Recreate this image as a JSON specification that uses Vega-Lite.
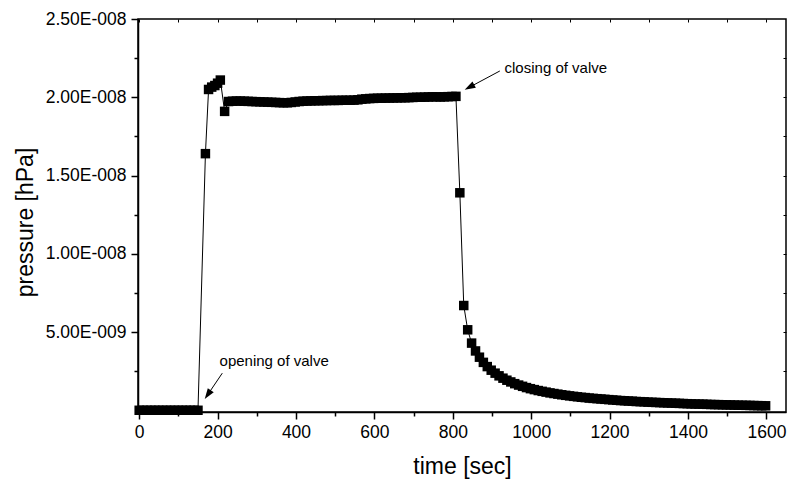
{
  "$schema": "https://vega.github.io/schema/vega-lite/v6.json",
  "width": 648,
  "height": 393,
  "autosize": {"type": "none"},
  "padding": {"left": 138, "top": 19, "right": 2, "bottom": 70},
  "background": "white",
  "config": {
    "view": {"stroke": "black", "strokeWidth": 1.5},
    "font": "Liberation Sans",
    "axis": {"grid": false, "domainColor": "black", "tickColor": "black", "labelColor": "black", "titleColor": "black", "labelFont": "Liberation Sans", "titleFont": "Liberation Sans", "titleFontWeight": "normal", "labelFlush": false, "labelOverlap": false}
  },
  "datasets": {
    "main": [
      {"t": 0, "p": 1e-11}, {"t": 10, "p": 1e-11}, {"t": 20, "p": 1e-11}, {"t": 30, "p": 1e-11}, {"t": 40, "p": 1e-11}, {"t": 50, "p": 1e-11}, {"t": 60, "p": 1e-11}, {"t": 70, "p": 1e-11}, {"t": 80, "p": 1e-11}, {"t": 90, "p": 1e-11}, {"t": 100, "p": 1e-11}, {"t": 110, "p": 1e-11}, {"t": 120, "p": 1e-11}, {"t": 130, "p": 1e-11}, {"t": 140, "p": 1e-11}, {"t": 150, "p": 1e-11},
      {"t": 169, "p": 1.64e-8}, {"t": 177, "p": 2.05e-8}, {"t": 185, "p": 2.065e-8}, {"t": 193, "p": 2.075e-8}, {"t": 200, "p": 2.09e-8}, {"t": 207, "p": 2.11e-8}, {"t": 218, "p": 1.91e-8},
      {"t": 228, "p": 1.973e-8}, {"t": 238, "p": 1.975e-8}, {"t": 248, "p": 1.976e-8}, {"t": 258, "p": 1.976e-8}, {"t": 268, "p": 1.975e-8}, {"t": 278, "p": 1.974e-8}, {"t": 288, "p": 1.973e-8}, {"t": 298, "p": 1.972e-8}, {"t": 308, "p": 1.971e-8}, {"t": 318, "p": 1.97e-8}, {"t": 328, "p": 1.969e-8}, {"t": 338, "p": 1.968e-8}, {"t": 348, "p": 1.967e-8}, {"t": 358, "p": 1.966e-8}, {"t": 368, "p": 1.965e-8}, {"t": 378, "p": 1.965e-8}, {"t": 388, "p": 1.967e-8}, {"t": 398, "p": 1.97e-8}, {"t": 408, "p": 1.973e-8}, {"t": 418, "p": 1.975e-8}, {"t": 428, "p": 1.976e-8}, {"t": 438, "p": 1.977e-8}, {"t": 448, "p": 1.978e-8}, {"t": 458, "p": 1.978e-8}, {"t": 468, "p": 1.979e-8}, {"t": 478, "p": 1.979e-8}, {"t": 488, "p": 1.98e-8}, {"t": 498, "p": 1.98e-8}, {"t": 508, "p": 1.98e-8}, {"t": 518, "p": 1.981e-8}, {"t": 528, "p": 1.981e-8}, {"t": 538, "p": 1.981e-8}, {"t": 548, "p": 1.982e-8}, {"t": 558, "p": 1.984e-8}, {"t": 568, "p": 1.988e-8}, {"t": 578, "p": 1.99e-8}, {"t": 588, "p": 1.992e-8}, {"t": 598, "p": 1.993e-8}, {"t": 608, "p": 1.994e-8}, {"t": 618, "p": 1.994e-8}, {"t": 628, "p": 1.995e-8}, {"t": 638, "p": 1.995e-8}, {"t": 648, "p": 1.996e-8}, {"t": 658, "p": 1.996e-8}, {"t": 668, "p": 1.997e-8}, {"t": 678, "p": 1.997e-8}, {"t": 688, "p": 1.998e-8}, {"t": 698, "p": 1.999e-8}, {"t": 708, "p": 2.0e-8}, {"t": 718, "p": 2.0e-8}, {"t": 728, "p": 2.001e-8}, {"t": 738, "p": 2.002e-8}, {"t": 748, "p": 2.003e-8}, {"t": 758, "p": 2.003e-8}, {"t": 768, "p": 2.002e-8}, {"t": 778, "p": 2.003e-8}, {"t": 788, "p": 2.004e-8}, {"t": 798, "p": 2.005e-8}, {"t": 808, "p": 2.006e-8},
      {"t": 818, "p": 1.39e-8}, {"t": 828, "p": 6.7e-9}, {"t": 838, "p": 5.15e-9}, {"t": 848, "p": 4.3e-9}, {"t": 858, "p": 3.8e-9}, {"t": 868, "p": 3.4e-9}, {"t": 878, "p": 3.07e-9}, {"t": 888, "p": 2.8e-9}, {"t": 898, "p": 2.57e-9}, {"t": 908, "p": 2.38e-9}, {"t": 918, "p": 2.21e-9}, {"t": 928, "p": 2.06e-9}, {"t": 938, "p": 1.93e-9}, {"t": 948, "p": 1.82e-9}, {"t": 958, "p": 1.71e-9}, {"t": 968, "p": 1.62e-9}, {"t": 978, "p": 1.54e-9}, {"t": 988, "p": 1.46e-9}, {"t": 998, "p": 1.39e-9},
      {"t": 1008, "p": 1.33e-9}, {"t": 1018, "p": 1.27e-9}, {"t": 1028, "p": 1.22e-9}, {"t": 1038, "p": 1.17e-9}, {"t": 1048, "p": 1.12e-9}, {"t": 1058, "p": 1.08e-9}, {"t": 1068, "p": 1.04e-9}, {"t": 1078, "p": 1.0e-9}, {"t": 1088, "p": 9.65e-10}, {"t": 1098, "p": 9.3e-10}, {"t": 1108, "p": 9.0e-10}, {"t": 1118, "p": 8.7e-10}, {"t": 1128, "p": 8.4e-10}, {"t": 1138, "p": 8.2e-10}, {"t": 1148, "p": 7.9e-10}, {"t": 1158, "p": 7.7e-10}, {"t": 1168, "p": 7.5e-10}, {"t": 1178, "p": 7.3e-10}, {"t": 1188, "p": 7.1e-10}, {"t": 1198, "p": 6.9e-10},
      {"t": 1208, "p": 6.7e-10}, {"t": 1218, "p": 6.5e-10}, {"t": 1228, "p": 6.3e-10}, {"t": 1238, "p": 6.2e-10}, {"t": 1248, "p": 6.0e-10}, {"t": 1258, "p": 5.9e-10}, {"t": 1268, "p": 5.7e-10}, {"t": 1278, "p": 5.6e-10}, {"t": 1288, "p": 5.5e-10}, {"t": 1298, "p": 5.3e-10}, {"t": 1308, "p": 5.2e-10}, {"t": 1318, "p": 5.1e-10}, {"t": 1328, "p": 5.0e-10}, {"t": 1338, "p": 4.9e-10}, {"t": 1348, "p": 4.8e-10}, {"t": 1358, "p": 4.7e-10}, {"t": 1368, "p": 4.6e-10}, {"t": 1378, "p": 4.5e-10}, {"t": 1388, "p": 4.4e-10}, {"t": 1398, "p": 4.3e-10},
      {"t": 1408, "p": 4.2e-10}, {"t": 1418, "p": 4.1e-10}, {"t": 1428, "p": 4.05e-10}, {"t": 1438, "p": 4.0e-10}, {"t": 1448, "p": 3.9e-10}, {"t": 1458, "p": 3.8e-10}, {"t": 1468, "p": 3.75e-10}, {"t": 1478, "p": 3.7e-10}, {"t": 1488, "p": 3.6e-10}, {"t": 1498, "p": 3.55e-10}, {"t": 1508, "p": 3.5e-10}, {"t": 1518, "p": 3.4e-10}, {"t": 1528, "p": 3.35e-10}, {"t": 1538, "p": 3.3e-10}, {"t": 1548, "p": 3.25e-10}, {"t": 1558, "p": 3.2e-10}, {"t": 1568, "p": 3.13e-10}, {"t": 1578, "p": 3.07e-10}, {"t": 1588, "p": 3.02e-10}, {"t": 1598, "p": 2.97e-10}
    ],
    "arrows": [
      {"name": "open", "t": 212, "p": 2.38e-9, "t2": 175.8, "p2": 1.04e-9},
      {"name": "close", "t": 920, "p": 2.168e-8, "t2": 843.8, "p2": 2.066e-8}
    ],
    "notes": [
      {"name": "open", "t": 205, "p": 3.17e-9, "text": "opening of valve"},
      {"name": "close", "t": 932, "p": 2.188e-8, "text": "closing of valve"}
    ]
  },
  "resolve": {"axis": {"x": "independent", "y": "independent"}},
  "layer": [
    {
      "data": {"name": "main"},
      "mark": {"type": "line", "color": "black", "strokeWidth": 1},
      "encoding": {
        "x": {"field": "t", "type": "quantitative", "scale": {"domain": [-3, 1650], "nice": false, "zero": false},
          "axis": {"orient": "bottom", "values": [0, 200, 400, 600, 800, 1000, 1200, 1400, 1600], "format": "d", "tickSize": 7, "tickWidth": 1.5, "domainWidth": 1.5, "labelFontSize": 17.5, "labelPadding": 4, "title": "time [sec]", "titleFontSize": 23, "titleBaseline": "alphabetic", "titleY": 61}},
        "y": {"field": "p", "type": "quantitative", "scale": {"domain": [-1e-10, 2.5e-8], "nice": false, "zero": false},
          "axis": {"orient": "left", "values": [5e-9, 1e-8, 1.5e-8, 2e-8, 2.5e-8], "labelExpr": "upper(replace(format(datum.value, '.2e'), 'e-', 'E-00'))", "tickSize": 7, "tickWidth": 1.5, "domainWidth": 1.5, "labelFontSize": 17.5, "labelPadding": 5, "title": "pressure [hPa]", "titleFontSize": 23, "titleAngle": 270, "titleBaseline": "alphabetic", "titleAlign": "center", "titleX": -106, "titleY": 203}}
      }
    },
    {
      "data": {"name": "main"},
      "mark": {"type": "point", "shape": "square", "filled": true, "size": 90, "color": "black", "opacity": 1},
      "encoding": {
        "x": {"field": "t", "type": "quantitative", "scale": {"domain": [-3, 1650], "nice": false, "zero": false},
          "axis": {"orient": "bottom", "values": [100, 300, 500, 700, 900, 1100, 1300, 1500], "tickSize": 4, "tickWidth": 1.5, "labels": false, "domain": false, "title": null}},
        "y": {"field": "p", "type": "quantitative", "scale": {"domain": [-1e-10, 2.5e-8], "nice": false, "zero": false},
          "axis": {"orient": "left", "values": [2.5e-9, 7.5e-9, 1.25e-8, 1.75e-8, 2.25e-8], "tickSize": 4, "tickWidth": 1.5, "labels": false, "domain": false, "title": null}}
      }
    },
    {
      "data": {"name": "arrows"},
      "mark": {"type": "rule", "color": "black", "strokeWidth": 1},
      "encoding": {
        "x": {"field": "t", "type": "quantitative", "scale": {"domain": [-3, 1650], "nice": false, "zero": false},
          "axis": {"orient": "top", "values": [0, 100, 200, 300, 400, 500, 600, 700, 800, 900, 1000, 1100, 1200, 1300, 1400, 1500, 1600], "tickSize": -3, "tickWidth": 1, "labels": false, "domain": false, "title": null}},
        "y": {"field": "p", "type": "quantitative", "scale": {"domain": [-1e-10, 2.5e-8], "nice": false, "zero": false},
          "axis": {"orient": "right", "values": [2.5e-9, 5e-9, 7.5e-9, 1e-8, 1.25e-8, 1.5e-8, 1.75e-8, 2e-8, 2.25e-8], "tickSize": -3, "tickWidth": 1, "labels": false, "domain": false, "title": null}},
        "x2": {"field": "t2"},
        "y2": {"field": "p2"}
      }
    },
    {
      "data": {"name": "arrows"},
      "transform": [{"filter": "datum.name === 'open'"}],
      "mark": {"type": "point", "shape": "M0,-1L-0.6,0.8L0.6,0.8Z", "filled": true, "size": 144, "color": "black", "opacity": 1, "angle": 214},
      "encoding": {
        "x": {"field": "t2", "type": "quantitative", "scale": {"domain": [-3, 1650], "nice": false, "zero": false}, "axis": null},
        "y": {"field": "p2", "type": "quantitative", "scale": {"domain": [-1e-10, 2.5e-8], "nice": false, "zero": false}, "axis": null}
      }
    },
    {
      "data": {"name": "arrows"},
      "transform": [{"filter": "datum.name === 'close'"}],
      "mark": {"type": "point", "shape": "M0,-1L-0.6,0.8L0.6,0.8Z", "filled": true, "size": 144, "color": "black", "opacity": 1, "angle": 241.5},
      "encoding": {
        "x": {"field": "t2", "type": "quantitative", "scale": {"domain": [-3, 1650], "nice": false, "zero": false}, "axis": null},
        "y": {"field": "p2", "type": "quantitative", "scale": {"domain": [-1e-10, 2.5e-8], "nice": false, "zero": false}, "axis": null}
      }
    },
    {
      "data": {"name": "notes"},
      "mark": {"type": "text", "align": "left", "baseline": "middle", "fontSize": 15, "font": "Liberation Sans", "color": "black"},
      "encoding": {
        "x": {"field": "t", "type": "quantitative", "scale": {"domain": [-3, 1650], "nice": false, "zero": false}, "axis": null},
        "y": {"field": "p", "type": "quantitative", "scale": {"domain": [-1e-10, 2.5e-8], "nice": false, "zero": false}, "axis": null},
        "text": {"field": "text"}
      }
    }
  ]
}
